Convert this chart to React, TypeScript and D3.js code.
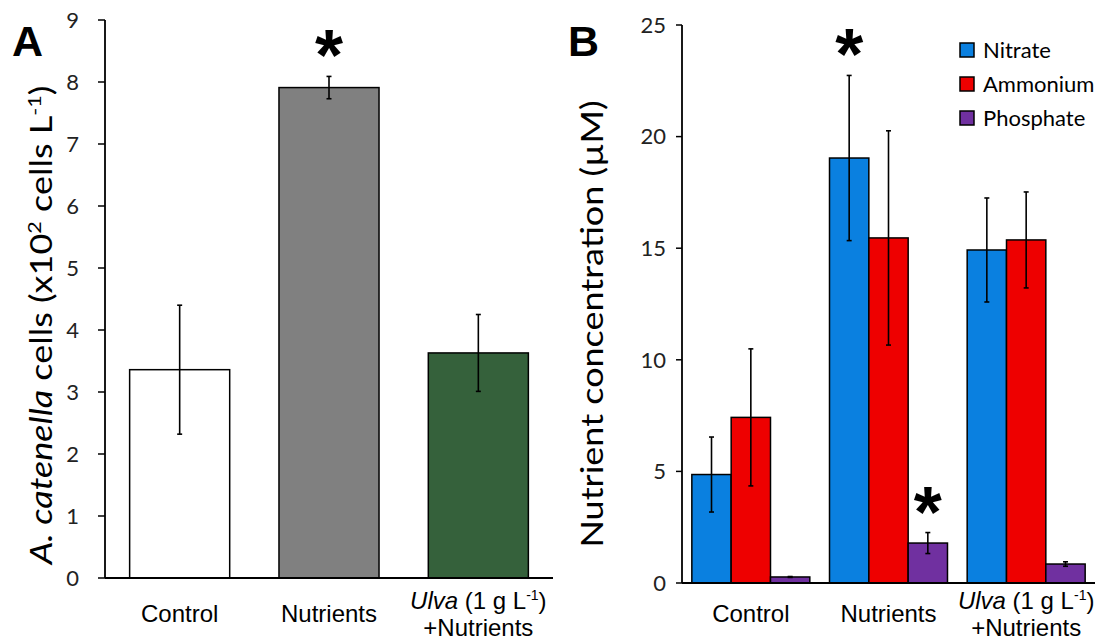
import React from 'react';
import * as d3 from 'd3';

// Treatments shared by both panels
const treatments = ['Control', 'Nutrients', 'Ulva'];

// Panel A: A. catenella cell density (x10^2 cells per litre)
const cellMeans = [3.36, 7.91, 3.63];
const cellErrors = [1.04, 0.18, 0.62];
const cellColors = ['#ffffff', '#808080', '#35613b'];
const cellTicks = [0, 1, 2, 3, 4, 5, 6, 7, 8, 9];
const cellSignificant = [false, true, false];

// Panel B: nutrient concentrations (µM)
const nutrientNames = ['Nitrate', 'Ammonium', 'Phosphate'];
const nitrateMeans = [4.86, 19.04, 14.92];
const nitrateErrors = [1.68, 3.7, 2.33];
const ammoniumMeans = [7.42, 15.46, 15.37];
const ammoniumErrors = [3.07, 4.8, 2.15];
const phosphateMeans = [0.27, 1.79, 0.85];
const phosphateErrors = [0.02, 0.47, 0.1];
const nitrateSignificant = [false, true, false];
const ammoniumSignificant = [false, false, false];
const phosphateSignificant = [false, true, false];
const nutrientColors = ['#0a80e0', '#ee0000', '#7030a0'];
const nutrientTicks = [0, 5, 10, 15, 20, 25];

const TICK_FONT = 'Lato, "Open Sans", sans-serif';
const LABEL_FONT = '"Liberation Sans", Arial, sans-serif';

function CategoryLabel({ name, x }: { name: string; x: number }) {
  if (name === 'Ulva') {
    return (
      <g fontFamily={LABEL_FONT} fontSize={24} textAnchor="middle" fill="#000">
        <text x={x} y={609}>
          <tspan fontStyle="italic">Ulva</tspan>
          <tspan> (1 g L</tspan>
          <tspan fontSize={14} dy={-9}>-1</tspan>
          <tspan dy={9}>)</tspan>
        </text>
        <text x={x} y={636}>+Nutrients</text>
      </g>
    );
  }
  return (
    <text x={x} y={622} fontFamily={LABEL_FONT} fontSize={24} textAnchor="middle" fill="#000">
      {name}
    </text>
  );
}

function ErrorBar({ x, y0, y1 }: { x: number; y0: number; y1: number }) {
  return (
    <g stroke="#000" strokeWidth={1.6}>
      <line x1={x} x2={x} y1={y0} y2={y1} />
      <line x1={x - 2.5} x2={x + 2.5} y1={y0} y2={y0} />
      <line x1={x - 2.5} x2={x + 2.5} y1={y1} y2={y1} />
    </g>
  );
}

// Significance marker, set just above the top of its error bar
function Asterisk({ x, top }: { x: number; top: number }) {
  return (
    <text x={x} y={top + 4} fontFamily={LABEL_FONT} fontWeight="bold" fontSize={72} textAnchor="middle" fill="#000">
      *
    </text>
  );
}

function PanelA() {
  const x = d3.scaleBand<string>().domain(treatments).range([105, 553]).paddingInner(0.33).paddingOuter(0.165);
  const y = d3.scaleLinear().domain([0, 9]).range([578, 20]);
  return (
    <g>
      <text x={12} y={56} fontFamily={LABEL_FONT} fontWeight="bold" fontSize={43}>A</text>
      {treatments.map((t, i) => {
        const cx = (x(t) as number) + x.bandwidth() / 2;
        return (
          <g key={t}>
            <rect x={x(t)} y={y(cellMeans[i])} width={x.bandwidth()} height={y(0) - y(cellMeans[i])}
              fill={cellColors[i]} stroke="#000" strokeWidth={1.5} />
            <ErrorBar x={cx} y0={y(cellMeans[i] - cellErrors[i])} y1={y(cellMeans[i] + cellErrors[i])} />
            {cellSignificant[i] && <Asterisk x={cx} top={y(cellMeans[i] + cellErrors[i])} />}
            <CategoryLabel name={t} x={cx} />
          </g>
        );
      })}
      <line x1={105} x2={105} y1={y(9)} y2={y(0)} stroke="#000" strokeWidth={1.8} />
      <line x1={105} x2={553} y1={y(0)} y2={y(0)} stroke="#000" strokeWidth={1.8} />
      {cellTicks.map(v => (
        <g key={v}>
          <line x1={98} x2={105} y1={y(v)} y2={y(v)} stroke="#000" strokeWidth={1.5} />
          <text x={79} y={y(v)} dy="0.35em" textAnchor="end" fontFamily={TICK_FONT} fontSize={22} fill="#222">{v}</text>
        </g>
      ))}
      <text transform="translate(52,325) rotate(-90) scale(1.2,1)" textAnchor="middle" fontFamily={TICK_FONT} fontSize={30} fill="#000">
        <tspan fontStyle="italic">A. catenella</tspan>
        <tspan> cells (x10</tspan>
        <tspan fontSize={18} dy={-11}>2</tspan>
        <tspan dy={11}> cells L</tspan>
        <tspan fontSize={18} dy={-11}>-1</tspan>
        <tspan dy={11}>)</tspan>
      </text>
    </g>
  );
}

function PanelB() {
  const x0 = d3.scaleBand<string>().domain(treatments).range([682, 1095]).paddingInner(0.143).paddingOuter(0.0715);
  const x1 = d3.scaleBand<string>().domain(nutrientNames).range([0, x0.bandwidth()]);
  const y = d3.scaleLinear().domain([0, 25]).range([583, 25]);
  const series = [
    { means: nitrateMeans, errors: nitrateErrors, sig: nitrateSignificant },
    { means: ammoniumMeans, errors: ammoniumErrors, sig: ammoniumSignificant },
    { means: phosphateMeans, errors: phosphateErrors, sig: phosphateSignificant },
  ];
  return (
    <g>
      <text x={568} y={56} fontFamily={LABEL_FONT} fontWeight="bold" fontSize={43}>B</text>
      {treatments.map((t, i) => {
        const gx = x0(t) as number;
        return (
          <g key={t}>
            {nutrientNames.map((n, j) => {
              const s = series[j];
              const bx = gx + (x1(n) as number);
              const cx = bx + x1.bandwidth() / 2;
              return (
                <g key={n}>
                  <rect x={bx} y={y(s.means[i])} width={x1.bandwidth()} height={y(0) - y(s.means[i])}
                    fill={nutrientColors[j]} stroke="#000" strokeWidth={1.5} />
                  <ErrorBar x={cx} y0={y(s.means[i] - s.errors[i])} y1={y(s.means[i] + s.errors[i])} />
                  {s.sig[i] && <Asterisk x={cx} top={y(s.means[i] + s.errors[i])} />}
                </g>
              );
            })}
            <CategoryLabel name={t} x={gx + x0.bandwidth() / 2} />
          </g>
        );
      })}
      <line x1={682} x2={682} y1={y(25)} y2={y(0)} stroke="#000" strokeWidth={1.8} />
      <line x1={682} x2={1095} y1={y(0)} y2={y(0)} stroke="#000" strokeWidth={1.8} />
      {nutrientTicks.map(v => (
        <g key={v}>
          <line x1={676} x2={682} y1={y(v)} y2={y(v)} stroke="#000" strokeWidth={1.5} />
          <text x={666} y={y(v)} dy="0.35em" textAnchor="end" fontFamily={TICK_FONT} fontSize={22} fill="#222">{v}</text>
        </g>
      ))}
      <text transform="translate(603,324) rotate(-90) scale(1.2,1)" textAnchor="middle" fontFamily={TICK_FONT} fontSize={30} fill="#000">
        Nutrient concentration (µM)
      </text>
      {nutrientNames.map((n, j) => (
        <g key={n} transform={`translate(960,${50 + j * 34})`}>
          <rect x={0} y={-7} width={14} height={14} fill={nutrientColors[j]} stroke="#000" strokeWidth={1.5} />
          <text x={23} y={0} dy="0.35em" fontFamily={TICK_FONT} fontSize={22} fill="#000">{n}</text>
        </g>
      ))}
    </g>
  );
}

export default function App() {
  return (
    <svg width={1104} height={641} style={{ position: 'absolute', left: 0, top: 0, background: '#fff' }}>
      <rect width={1104} height={641} fill="#fff" />
      <PanelA />
      <PanelB />
    </svg>
  );
}
